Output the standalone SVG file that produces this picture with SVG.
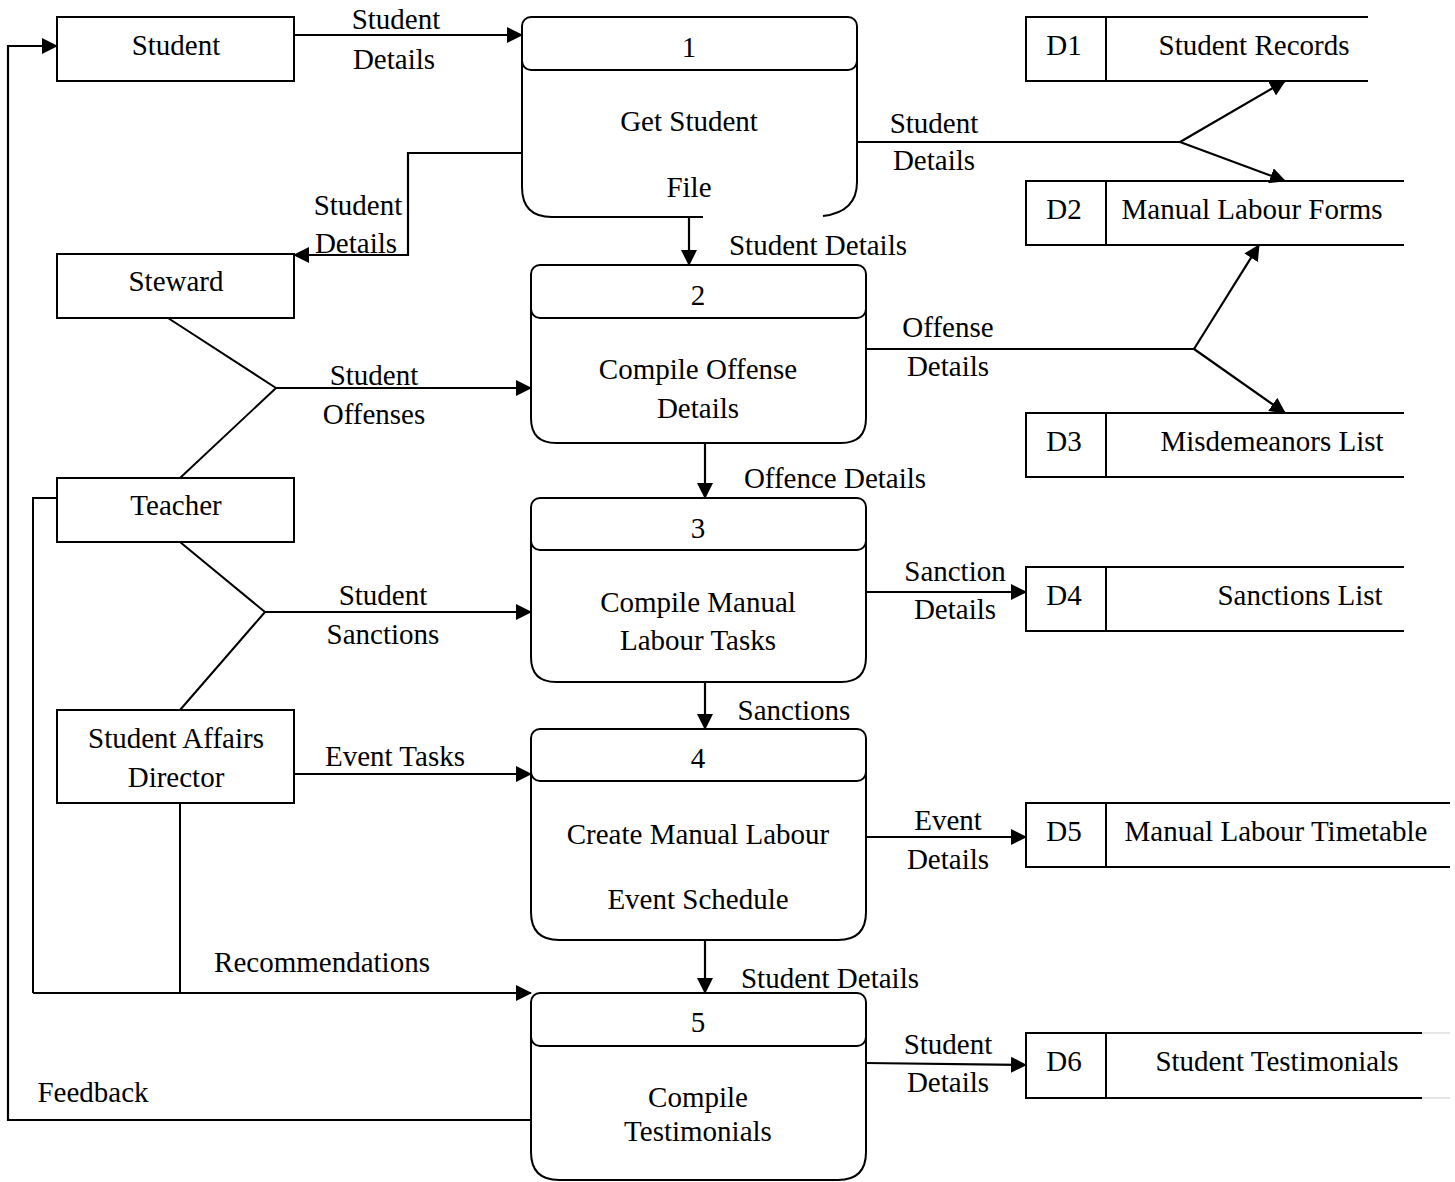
<svg xmlns="http://www.w3.org/2000/svg" width="1455" height="1182" viewBox="0 0 1455 1182">
<defs>
<marker id="ah" markerUnits="userSpaceOnUse" markerWidth="16" markerHeight="16" refX="15" refY="8" orient="auto">
<path d="M0,0 L16,8 L0,16 Z" fill="#000"/>
</marker>
<style>
text{font-family:"Liberation Serif","Times New Roman",serif;font-size:29px;fill:#000;text-anchor:middle}
.b{fill:#fff;stroke:#000;stroke-width:2}
.l{fill:none;stroke:#000;stroke-width:2}
.a{fill:none;stroke:#000;stroke-width:2.2;marker-end:url(#ah)}
</style>
</defs>
<rect width="1455" height="1182" fill="#fff"/>

<g id="connectors">
<path class="a" d="M294,35 L522,35"/>
<path class="a" d="M531,1120 L8,1120 L8,46 L57,46"/>
<path class="a" d="M522,153 L408,153 L408,255 L294,255"/>
<path class="l" d="M857,142 L1180,142"/>
<path class="a" d="M1180,142 L1285,81"/>
<path class="a" d="M1180,142 L1285,181"/>
<path class="a" d="M689,217 L689,265"/>
<path class="l" d="M168,318 L276,388 M180,478 L276,388"/>
<path class="a" d="M276,388 L531,388"/>
<path class="l" d="M866,349 L1194,349"/>
<path class="a" d="M1194,349 L1259,245"/>
<path class="a" d="M1194,349 L1285,413"/>
<path class="a" d="M705,443 L705,498"/>
<path class="l" d="M180,542 L265,612 M180,710 L265,612"/>
<path class="a" d="M265,612 L531,612"/>
<path class="a" d="M866,592 L1026,592"/>
<path class="a" d="M705,682 L705,729"/>
<path class="a" d="M294,774 L531,774"/>
<path class="a" d="M866,837 L1026,837"/>
<path class="a" d="M705,940 L705,993"/>
<path class="l" d="M57,498 L33,498 L33,993 M180,803 L180,993"/>
<path class="a" d="M33,993 L531,993"/>
<path class="a" d="M866,1063 L1026,1065"/>
<text x="396" y="29">Student</text>
<text x="394" y="69">Details</text>
<text x="934" y="133">Student</text>
<text x="934" y="170">Details</text>
<text x="358" y="215">Student</text>
<text x="356" y="253">Details</text>
<text x="818" y="255">Student Details</text>
<text x="948" y="337">Offense</text>
<text x="948" y="376">Details</text>
<text x="374" y="385">Student</text>
<text x="374" y="424">Offenses</text>
<text x="835" y="488">Offence Details</text>
<text x="955" y="581">Sanction</text>
<text x="955" y="619">Details</text>
<text x="383" y="605">Student</text>
<text x="383" y="644">Sanctions</text>
<text x="794" y="720">Sanctions</text>
<text x="395" y="766">Event Tasks</text>
<text x="948" y="830">Event</text>
<text x="948" y="869">Details</text>
<text x="322" y="972">Recommendations</text>
<text x="830" y="988">Student Details</text>
<text x="948" y="1054">Student</text>
<text x="948" y="1092">Details</text>
<text x="93" y="1102">Feedback</text>
</g>

<g id="student">
<rect class="b" x="57" y="17" width="237" height="64"/>
<text x="176" y="55">Student</text>
</g>
<g id="steward">
<rect class="b" x="57" y="254" width="237" height="64"/>
<text x="176" y="291">Steward</text>
</g>
<g id="teacher">
<rect class="b" x="57" y="478" width="237" height="64"/>
<text x="176" y="515">Teacher</text>
</g>
<g id="sad">
<rect class="b" x="57" y="710" width="237" height="93"/>
<text x="176" y="748">Student Affairs</text>
<text x="176" y="787">Director</text>
</g>

<g id="p1">
<path d="M522,60 L522,187 Q522,217 552,217 L857,217 L857,60 Z" fill="#fff"/>
<path class="l" d="M522,60 L522,187 Q522,217 552,217 L703,217 M823,216 Q857,212 857,182 L857,60"/>
<rect class="b" x="522" y="17" width="335" height="53" rx="9"/>
<text x="689" y="57">1</text>
<text x="689" y="131">Get Student</text>
<text x="689" y="197">File</text>
</g>
<g id="p2">
<path class="b" d="M531,308 L531,418 Q531,443 556,443 L841,443 Q866,443 866,418 L866,308 Z"/>
<rect class="b" x="531" y="265" width="335" height="53" rx="9"/>
<text x="698" y="305">2</text>
<text x="698" y="379">Compile Offense</text>
<text x="698" y="418">Details</text>
</g>
<g id="p3">
<path class="b" d="M531,540 L531,657 Q531,682 556,682 L841,682 Q866,682 866,657 L866,540 Z"/>
<rect class="b" x="531" y="498" width="335" height="52" rx="9"/>
<text x="698" y="538">3</text>
<text x="698" y="612">Compile Manual</text>
<text x="698" y="650">Labour Tasks</text>
</g>
<g id="p4">
<path class="b" d="M531,771 L531,912 Q531,940 559,940 L838,940 Q866,940 866,912 L866,771 Z"/>
<rect class="b" x="531" y="729" width="335" height="52" rx="9"/>
<text x="698" y="768">4</text>
<text x="698" y="844">Create Manual Labour</text>
<text x="698" y="909">Event Schedule</text>
</g>
<g id="p5">
<path class="b" d="M531,1036 L531,1152 Q531,1180 559,1180 L838,1180 Q866,1180 866,1152 L866,1036 Z"/>
<rect class="b" x="531" y="993" width="335" height="53" rx="9"/>
<text x="698" y="1032">5</text>
<text x="698" y="1107">Compile</text>
<text x="698" y="1141">Testimonials</text>
</g>

<g id="d1">
<path class="l" d="M1368,17 L1026,17 L1026,81 L1368,81 M1106,17 L1106,81"/>
<text x="1064" y="55">D1</text>
<text x="1254" y="55">Student Records</text>
</g>
<g id="d2">
<path class="l" d="M1404,181 L1026,181 L1026,245 L1404,245 M1106,181 L1106,245"/>
<text x="1064" y="219">D2</text>
<text x="1252" y="219">Manual Labour Forms</text>
</g>
<g id="d3">
<path class="l" d="M1404,413 L1026,413 L1026,477 L1404,477 M1106,413 L1106,477"/>
<text x="1064" y="451">D3</text>
<text x="1272" y="451">Misdemeanors List</text>
</g>
<g id="d4">
<path class="l" d="M1404,567 L1026,567 L1026,631 L1404,631 M1106,567 L1106,631"/>
<text x="1064" y="605">D4</text>
<text x="1300" y="605">Sanctions List</text>
</g>
<g id="d5">
<path class="l" d="M1450,803 L1026,803 L1026,867 L1450,867 M1106,803 L1106,867"/>
<text x="1064" y="841">D5</text>
<text x="1276" y="841">Manual Labour Timetable</text>
</g>
<g id="d6">
<path class="l" d="M1422,1033 L1026,1033 L1026,1098 L1422,1098 M1106,1033 L1106,1098"/>
<path d="M1422,1033 L1450,1033 M1422,1098 L1450,1098" stroke="#ddd" stroke-width="1.5" fill="none"/>
<text x="1064" y="1071">D6</text>
<text x="1277" y="1071">Student Testimonials</text>
</g>
</svg>
